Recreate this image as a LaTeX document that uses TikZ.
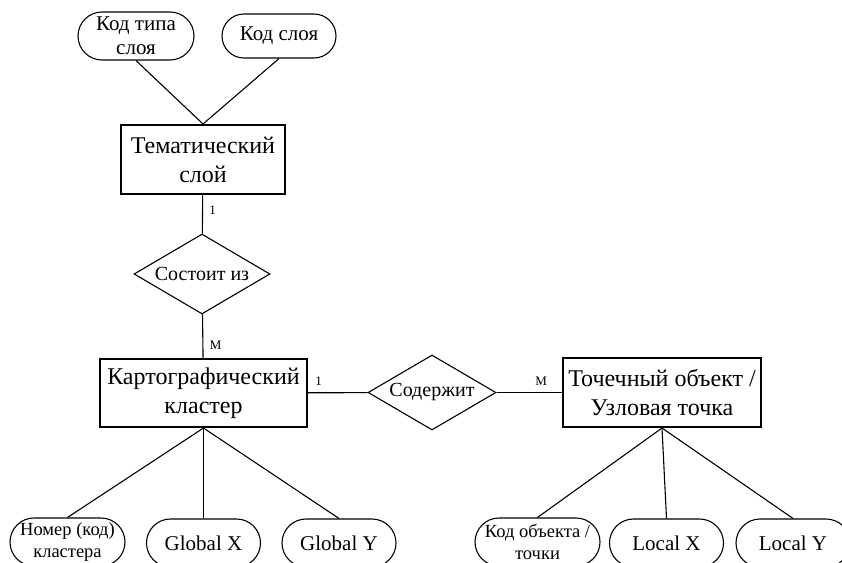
\documentclass[tikz,border=0pt]{standalone}
\usepackage{fontspec}
\setmainfont{Liberation Serif}
\usetikzlibrary{shapes.geometric,shapes.misc}

\begin{document}
\begin{tikzpicture}[x=1pt, y=-1pt,
    entity/.style={draw, line width=2pt, inner sep=0pt, align=center, font=\fontsize{24}{29}\selectfont},
    rel/.style={draw, diamond, aspect=1.7, inner sep=0pt, line width=1.1pt, font=\fontsize{20}{24}\selectfont},
    attr/.style={draw, rounded rectangle, inner sep=0pt, line width=1.1pt, minimum height=48pt, minimum width=114pt, align=center, font=\fontsize{21}{24}\selectfont},
    attrsm/.style={attr, font=\fontsize{18.5}{22}\selectfont},
    card/.style={font=\fontsize{13}{15}\selectfont},
    link/.style={line width=1.1pt}]
    \useasboundingbox (0,0) rectangle (842,562);

    % entities
    \node[entity, minimum width=164pt, minimum height=69pt] (tema) at (203,159.5) {Тематический\\слой};
    \node[entity, minimum width=207pt, minimum height=68pt] (klaster) at (203.5,393) {Картографический\\кластер};
    \node[entity, minimum width=198pt, minimum height=69pt] (tochka) at (662,392.5) {Точечный объект /\\Узловая точка};

    % relations
    \node[rel, minimum width=136pt, minimum height=80pt] (sostoit) at (202,274) {Состоит из};
    \node[rel, minimum width=128pt, minimum height=75pt] (soderzh) at (432,392.5) {Содержит};

    % attributes
    \node[attr, minimum width=116pt] (kodtipa) at (136,36) {Код типа\\слоя};
    \node[attr, minimum height=44pt] (kodsloya) at (279,36) {Код слоя};
    \node[attrsm, minimum width=115pt] (nomer) at (67.5,542) {Номер (код)\\кластера};
    \node[attr] (gx) at (203.5,543) {Global X};
    \node[attr] (gy) at (339,543) {Global Y};
    \node[attrsm, minimum width=125pt] (kodobj) at (537.5,542) {Код объекта /\\точки};
    \node[attr] (lx) at (666.5,543) {Local X};
    \node[attr] (ly) at (793,543) {Local Y};

    % links
    \draw[link] (kodtipa.south) -- (tema.north);
    \draw[link] (kodsloya.south) -- (tema.north);
    \draw[link] (tema) -- (sostoit) node[card, pos=0.4, right=3pt] {1};
    \draw[link] (sostoit) -- (klaster) node[card, pos=0.7, right=3pt] {М};
    \draw[link] (klaster) -- (soderzh) node[card, pos=0.18, above=3pt] {1};
    \draw[link] (soderzh) -- (tochka) node[card, pos=0.68, above=3pt] {М};
    \foreach \a in {nomer, gx, gy}
        \draw[link] (klaster.south) -- (\a.north);
    \foreach \a in {kodobj, lx, ly}
        \draw[link] (tochka.south) -- (\a.north);
\end{tikzpicture}
\end{document}
